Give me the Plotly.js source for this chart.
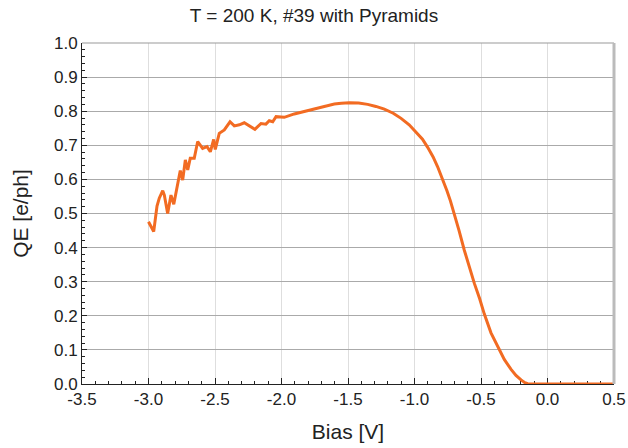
<!DOCTYPE html>
<html>
<head>
<meta charset="utf-8">
<script src="https://cdn.plot.ly/plotly-3.0.1.min.js"></script>
<style>html,body{margin:0;padding:0;background:#fff;}#chart{width:628px;height:448px;}</style>
</head>
<body>
<div id="chart"></div>
<script>
const biasV = [-3.000,-2.961,-2.936,-2.919,-2.893,-2.881,-2.856,-2.831,-2.810,-2.780,-2.761,-2.743,-2.723,-2.705,-2.686,-2.656,-2.630,-2.593,-2.560,-2.535,-2.510,-2.498,-2.468,-2.430,-2.387,-2.355,-2.317,-2.280,-2.242,-2.200,-2.154,-2.117,-2.092,-2.066,-2.041,-1.979,-1.904,-1.829,-1.778,-1.703,-1.650,-1.603,-1.550,-1.490,-1.420,-1.352,-1.290,-1.227,-1.160,-1.101,-1.040,-0.989,-0.940,-0.901,-0.860,-0.826,-0.790,-0.756,-0.730,-0.700,-0.665,-0.626,-0.590,-0.550,-0.510,-0.475,-0.425,-0.374,-0.325,-0.274,-0.237,-0.199,-0.170,-0.149,-0.100,0.000,0.100,0.200,0.300,0.400,0.500];
const qe    = [0.476,0.447,0.522,0.545,0.567,0.554,0.500,0.554,0.527,0.589,0.626,0.598,0.657,0.628,0.662,0.662,0.711,0.691,0.696,0.681,0.717,0.688,0.735,0.745,0.769,0.757,0.760,0.766,0.757,0.747,0.764,0.762,0.772,0.769,0.784,0.782,0.792,0.799,0.803,0.811,0.816,0.821,0.823,0.825,0.824,0.820,0.814,0.806,0.794,0.779,0.760,0.740,0.718,0.694,0.666,0.637,0.602,0.567,0.537,0.500,0.450,0.393,0.344,0.295,0.250,0.205,0.150,0.108,0.072,0.043,0.025,0.012,0.004,0.001,0.000,0.000,0.000,0.000,0.000,0.000,0.000];
const xTicks = [-3.5,-3.0,-2.5,-2.0,-1.5,-1.0,-0.5,0.0,0.5];
const yTicks = [0.0,0.1,0.2,0.3,0.4,0.5,0.6,0.7,0.8,0.9,1.0];

const font = {family: 'Liberation Sans, Arial, sans-serif', color: '#222'};
const data = [{
  x: biasV, y: qe, type: 'scatter', mode: 'lines',
  line: {color: '#f26b22', width: 3},
  cliponaxis: false, hoverinfo: 'none'
}];
const layout = {
  width: 628, height: 448,
  margin: {l: 82, r: 14, t: 43, b: 64},
  paper_bgcolor: '#fff', plot_bgcolor: '#fff',
  showlegend: false,
  font: font,
  title: {text: 'T = 200 K, #39 with Pyramids', font: {family: font.family, size: 19, color: '#222'}, x: 0.5, xanchor: 'center', y: 0.98, yanchor: 'top'},
  xaxis: {
    range: [-3.5, 0.5], tickvals: xTicks, ticktext: xTicks.map(v => v.toFixed(1)),
    showgrid: true, gridcolor: '#dedede', gridwidth: 1,
    zeroline: false, showline: true, linecolor: '#222', linewidth: 1,
    ticks: 'inside', ticklen: 6, tickcolor: '#222',
    minor: {dtick: 0.1, ticks: 'inside', ticklen: 3, tickcolor: '#222', showgrid: false},
    tickfont: {family: font.family, size: 17, color: '#222'},
    title: {text: 'Bias [V]', font: {family: font.family, size: 21, color: '#222'}, standoff: 15},
    layer: 'below traces'
  },
  yaxis: {
    range: [0, 1], tickvals: yTicks, ticktext: yTicks.map(v => v.toFixed(1)),
    showgrid: true, gridcolor: '#aaaaaa', gridwidth: 1,
    zeroline: false, showline: true, linecolor: '#222', linewidth: 1,
    ticks: 'inside', ticklen: 5, tickcolor: '#222',
    minor: {dtick: 0.02, ticks: 'inside', ticklen: 3, tickcolor: '#222', showgrid: false},
    tickfont: {family: font.family, size: 17, color: '#222'},
    title: {text: 'QE [e/ph]', font: {family: font.family, size: 21, color: '#222'}, standoff: 19},
    layer: 'below traces'
  },
  shapes: [
    {type: 'line', xref: 'paper', yref: 'paper', x0: 0, x1: 1, y0: 1, y1: 1, line: {color: '#999', width: 1}},
    {type: 'line', xref: 'paper', yref: 'paper', x0: 1, x1: 1, y0: 0, y1: 1, line: {color: '#bbb', width: 3}}
  ]
};
Plotly.newPlot('chart', data, layout, {staticPlot: true, displayModeBar: false});
</script>
</body>
</html>
